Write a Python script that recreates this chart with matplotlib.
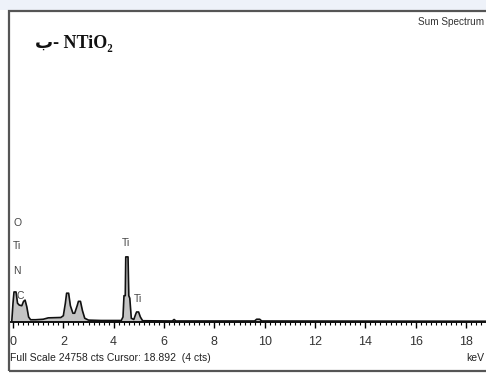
import matplotlib
matplotlib.use("Agg")
import matplotlib.pyplot as plt
from matplotlib.patches import Rectangle
from matplotlib.ticker import MultipleLocator

# EDX sum spectrum of N-doped TiO2 (energy in keV, counts)
energy_kev = [-0.05, 0.0, 0.04, 0.12, 0.18, 0.25, 0.35, 0.42, 0.48, 0.55, 0.62,
              0.70, 0.90, 1.20, 1.40, 1.90, 2.00, 2.08, 2.13, 2.21, 2.28, 2.38,
              2.45, 2.55, 2.60, 2.68, 2.76, 2.85, 3.00, 3.50, 4.30, 4.37, 4.41,
              4.46, 4.48, 4.57, 4.60, 4.64, 4.70, 4.80, 4.87, 4.91, 4.99, 5.06,
              5.15, 6.33, 6.40, 6.47, 9.60, 9.68, 9.80, 9.88, 18.80]
counts = [0, 1500, 2400, 2400, 1500, 1350, 1300, 1650, 1750, 1200, 400,
          180, 180, 220, 330, 360, 500, 1500, 2300, 2300, 1300, 700,
          700, 1300, 1650, 1650, 900, 300, 150, 120, 120, 400, 2100,
          2100, 5200, 5200, 2100, 1900, 300, 200, 600, 800, 800, 400,
          100, 80, 200, 80, 80, 220, 220, 80, 60]

full_scale = 24758

# Element markers: (symbol, energy keV, label height in counts)
elem_symbols = ["O", "Ti", "N", "C", "Ti", "Ti"]
elem_energy = [0.17, 0.17, 0.17, 0.30, 4.50, 4.98]
elem_height = [7900, 6050, 4050, 2100, 6300, 1850]

NARROW = ["Liberation Sans", "DejaVu Sans"]

W, H = 486, 374
fig = plt.figure(figsize=(W / 100, H / 100), dpi=100)
fig.patch.set_facecolor("white")

# light strip above the frame
fig.patches.append(Rectangle((0, 1 - 10 / H), 1, 10 / H, transform=fig.transFigure,
                             facecolor="#eef2f9", edgecolor="none", zorder=0))
# outer frame
fig.patches.append(Rectangle((8.5 / W, 3.5 / H), 1.1, (371 - 11) / H,
                             transform=fig.transFigure, facecolor="none",
                             edgecolor="#555555", linewidth=1.6, zorder=5))

x0_px, kev_px = 13.0, 25.17
left_px, base_px, top_px = 9.5, 322, 12
ax = fig.add_axes([left_px / W, (H - base_px) / H, (W - left_px) / W, (base_px - top_px) / H])
ax.set_xlim((left_px - x0_px) / kev_px, (W - x0_px) / kev_px)
ax.set_ylim(0, full_scale)
ax.set_facecolor("white")

ax.fill_between(energy_kev, counts, 0, color="#c4c4c4", linewidth=0, zorder=2)
ax.plot(energy_kev, counts, color="#111111", linewidth=1.2, zorder=3)

for s, e, h in zip(elem_symbols, elem_energy, elem_height):
    ax.text(e, h, s, ha="center", va="center", fontsize=7.5, color="#444444",
            family=NARROW, zorder=4)

for side in ["left", "right", "top"]:
    ax.spines[side].set_visible(False)
ax.spines["bottom"].set_linewidth(1.3)
ax.set_yticks([])
ax.xaxis.set_major_locator(MultipleLocator(2))
ax.xaxis.set_minor_locator(MultipleLocator(0.2))
ax.tick_params(axis="x", which="major", direction="out", length=4, width=1,
               pad=6, labelsize=9, labelcolor="#333333")
ax.tick_params(axis="x", which="minor", direction="out", length=2.5, width=0.8)
for lab in ax.get_xticklabels():
    lab.set_family(NARROW)

ax.text((35 - left_px) / (W - left_px), 1 - (44 - top_px) / (base_px - top_px),
        "ب- NTiO₂", transform=ax.transAxes, ha="left", va="center", fontsize=13,
        fontweight="bold", family=["Liberation Serif", "DejaVu Sans"], color="#111111")

fig.text(418 / W, 1 - 22 / H, "Sum Spectrum", ha="left", va="center", fontsize=7.2,
         color="#333333", family=NARROW)
fig.text(10 / W, 1 - 358 / H, "Full Scale 24758 cts Cursor: 18.892  (4 cts)", ha="left",
         va="center", fontsize=7.5, color="#222222", family=NARROW)
fig.text(466 / W, 1 - 358 / H, "keV", ha="left", va="center", fontsize=7.5,
         color="#222222", family=NARROW)

fig.savefig("out.png", dpi=100)
